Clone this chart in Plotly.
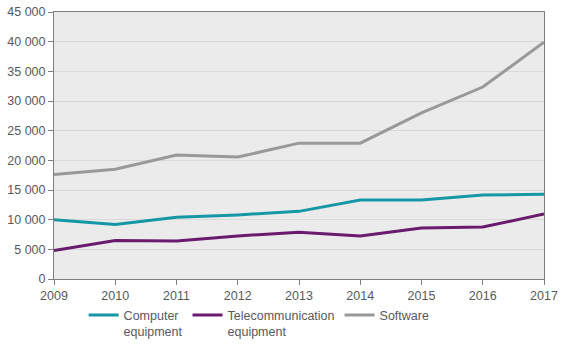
import plotly.graph_objects as go

years = [2009, 2010, 2011, 2012, 2013, 2014, 2015, 2016, 2017]
computer = [10000, 9200, 10400, 10800, 11400, 13300, 13300, 14150, 14300]
telecom = [4800, 6500, 6400, 7250, 7900, 7250, 8600, 8750, 10950]
software = [17600, 18500, 20900, 20550, 22900, 22900, 28000, 32350, 39900]

names = ["Computer<br>equipment", "Telecommunication<br>equipment", "Software"]
colors = ["#1697A6", "#6A1B6E", "#999999"]

fig = go.Figure()
for name, vals, col in zip(names, [computer, telecom, software], colors):
    fig.add_trace(go.Scatter(x=years, y=vals, name=name, mode="lines",
                             line=dict(color=col, width=3)))

axis_font = dict(family="Liberation Sans, Arial, sans-serif", size=12.5, color="#595959")
fig.update_layout(
    width=567, height=351,
    margin=dict(l=54, r=23, t=12, b=72, autoexpand=False),
    paper_bgcolor="white", plot_bgcolor="#EBEBEB",
    separators=", ",
    font=axis_font,
    showlegend=True,
    legend=dict(orientation="h", xref="container", yref="container",
                x=0.457, xanchor="center", y=0.144, yanchor="top",
                valign="top",
                font=axis_font, itemwidth=30, tracegroupgap=0),
    xaxis=dict(range=[2009, 2017], tickmode="array", tickvals=years,
               showgrid=False, showline=True, linecolor="#808080", linewidth=1,
               mirror=True, ticks="outside", ticklen=5, tickcolor="#808080",
               zeroline=False, automargin=False),
    yaxis=dict(range=[0, 45000], dtick=5000, tickformat=",d",
               showgrid=True, gridcolor="#D9D9D9", gridwidth=1,
               showline=True, linecolor="#808080", linewidth=1, mirror=True,
               ticks="outside", ticklen=5, tickcolor="#808080", zeroline=False,
               automargin=False),
)
fig.write_html("out.html")
